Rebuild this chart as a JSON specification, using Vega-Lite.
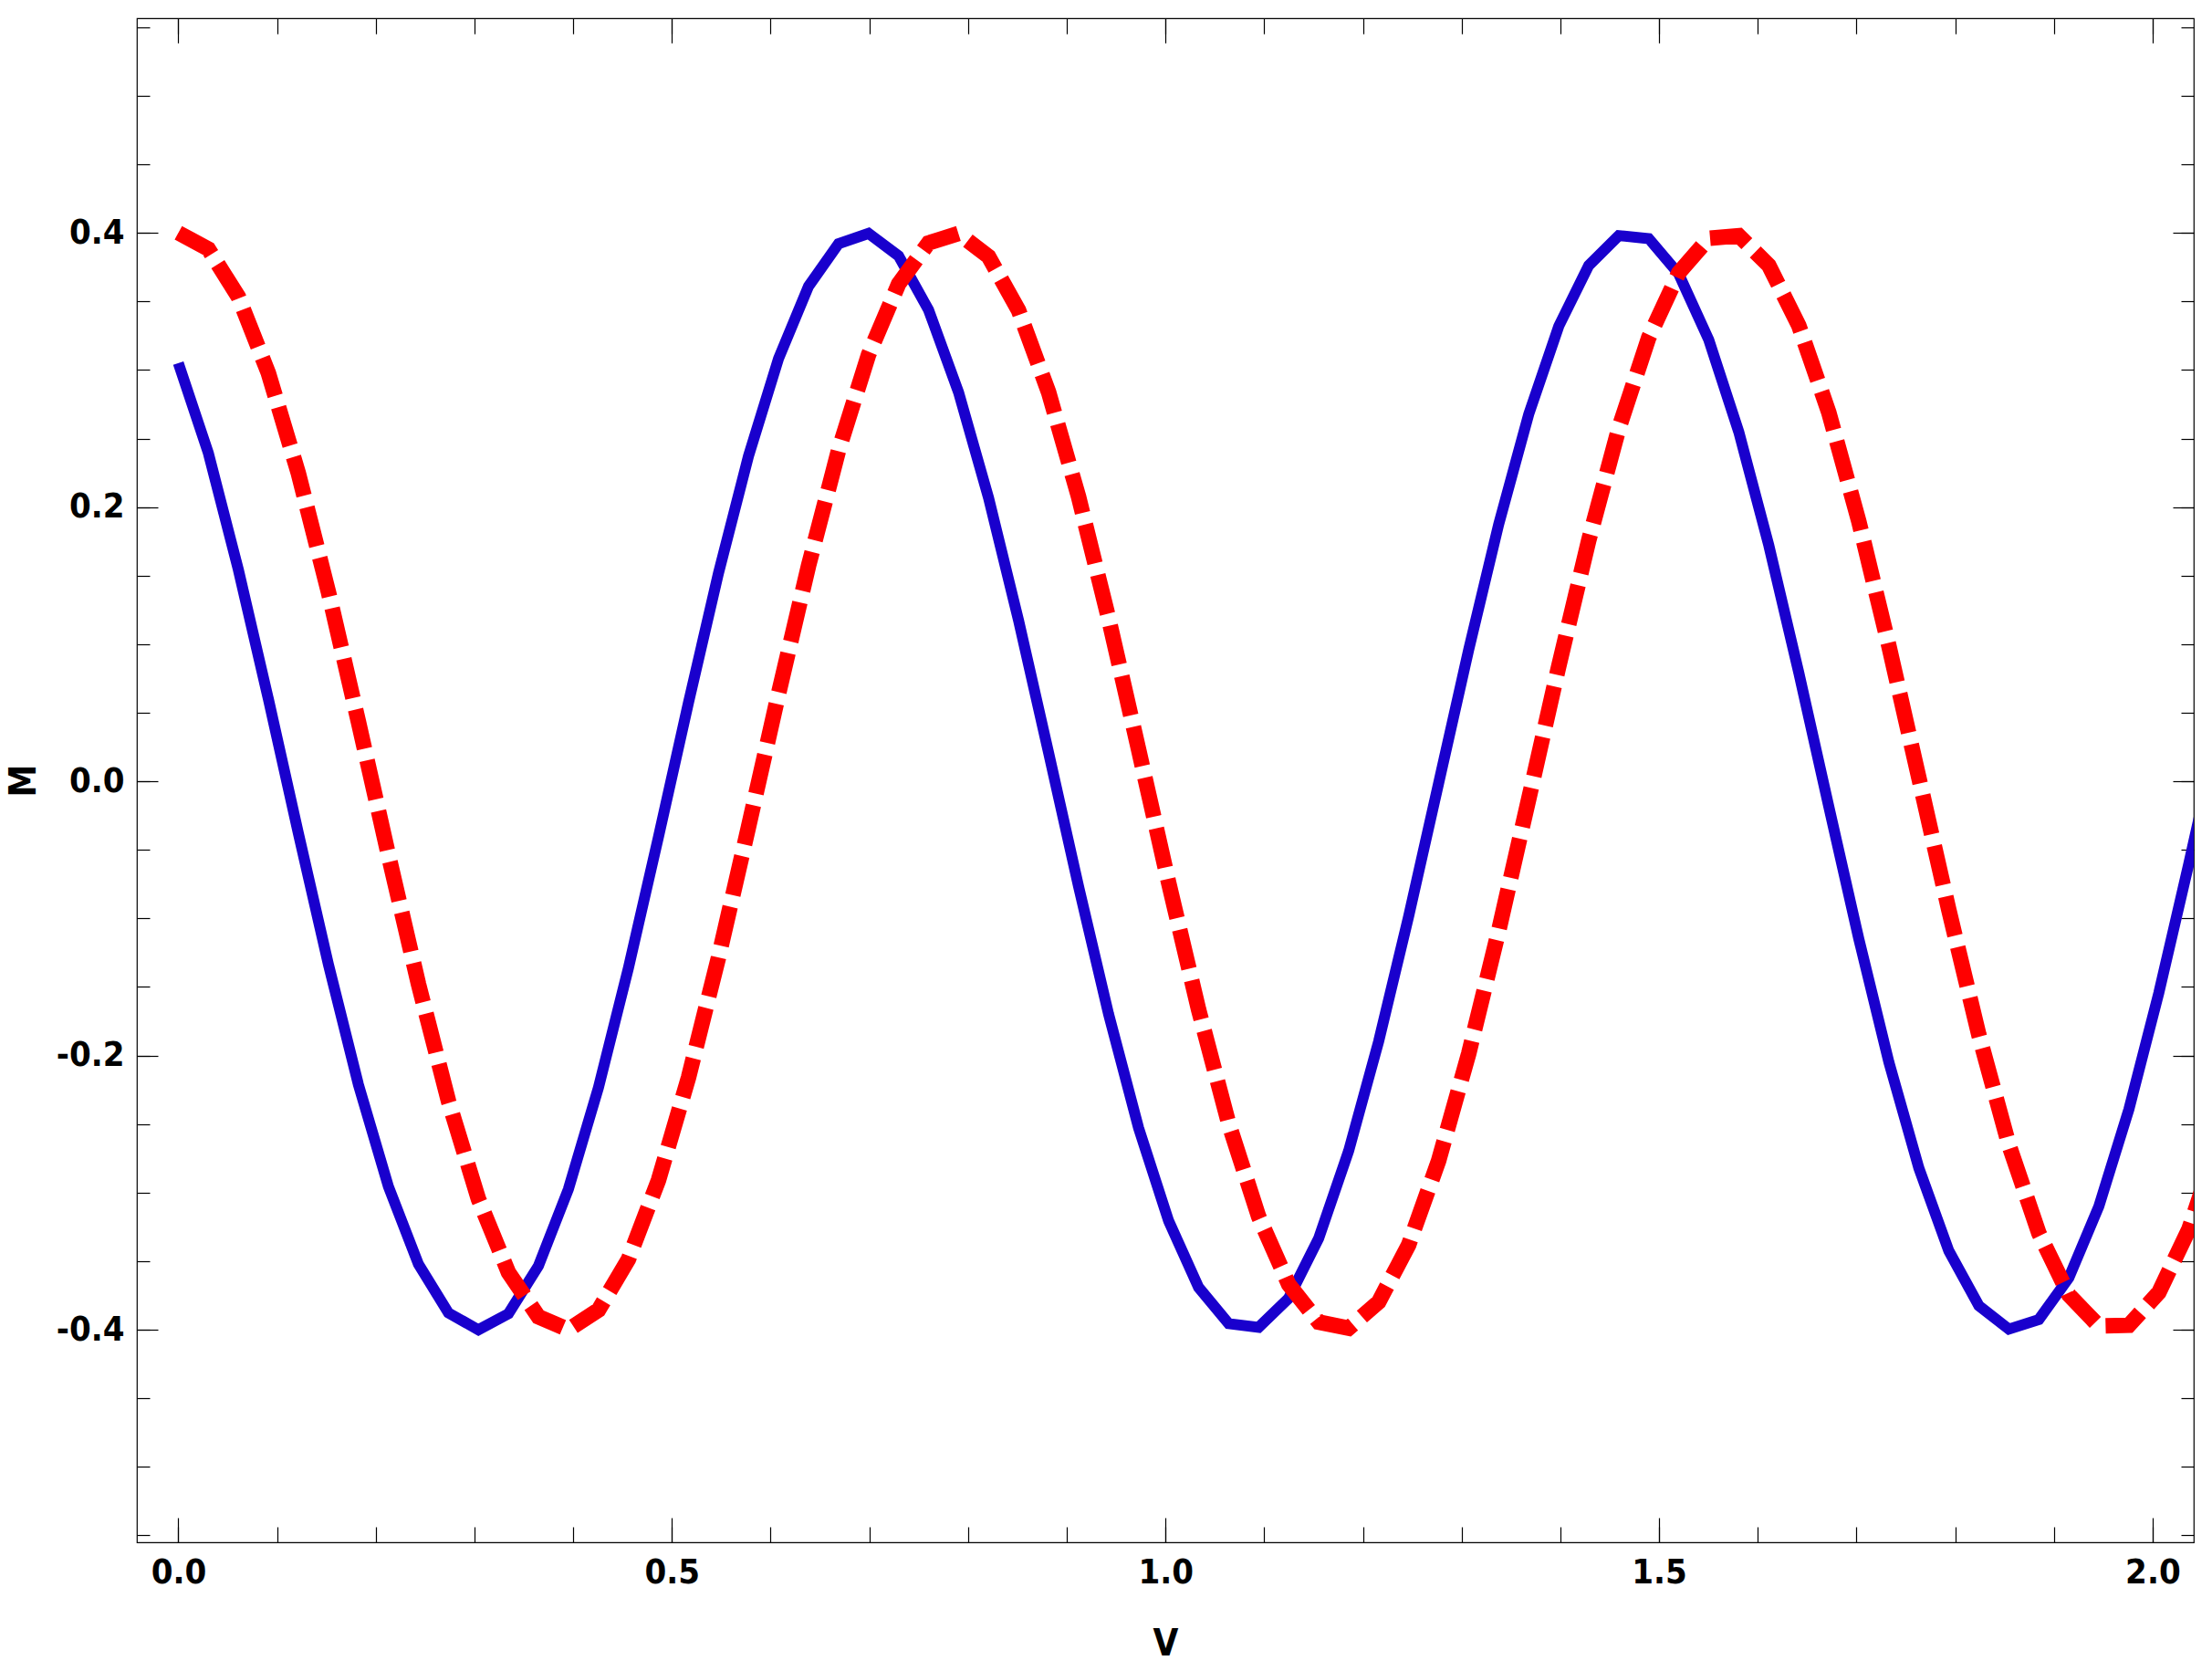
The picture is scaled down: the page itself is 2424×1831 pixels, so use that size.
{
  "$schema": "https://vega.github.io/schema/vega-lite/v6.json",
  "autosize": "none",
  "width": 2254,
  "height": 1670,
  "padding": {"left": 150, "top": 20, "right": 20, "bottom": 141},
  "background": "white",
  "config": {
    "view": {"stroke": "black", "strokeWidth": 1.2},
    "axis": {
      "domain": false,
      "grid": false,
      "tickColor": "black",
      "tickWidth": 1.2,
      "labelFont": "Liberation Sans Narrow, DejaVu Sans Condensed, sans-serif",
      "labelFontWeight": "bold",
      "labelFontSize": 38,
      "labelColor": "black",
      "titleFont": "Liberation Sans Narrow, DejaVu Sans Condensed, sans-serif",
      "titleFontWeight": "bold",
      "titleFontSize": 40,
      "titleColor": "black"
    }
  },
  "datasets": {
    "blue": [
      {"V": 0, "M": 0.305}, {"V": 0.0304, "M": 0.2394}, {"V": 0.0608, "M": 0.1543}, {"V": 0.0912, "M": 0.06}, {"V": 0.1216, "M": -0.0379}, {"V": 0.152, "M": -0.1335}, {"V": 0.1824, "M": -0.2211}, {"V": 0.2128, "M": -0.2955}, {"V": 0.2432, "M": -0.3521}, {"V": 0.2736, "M": -0.3877}, {"V": 0.304, "M": -0.4}, {"V": 0.3344, "M": -0.3883}, {"V": 0.3648, "M": -0.3534}, {"V": 0.3952, "M": -0.2973}, {"V": 0.4256, "M": -0.2233}, {"V": 0.456, "M": -0.136}, {"V": 0.4864, "M": -0.0405}, {"V": 0.5168, "M": 0.0574}, {"V": 0.5472, "M": 0.1519}, {"V": 0.5776, "M": 0.2372}, {"V": 0.608, "M": 0.3083}, {"V": 0.6384, "M": 0.361}, {"V": 0.6688, "M": 0.3921}, {"V": 0.6992, "M": 0.3996}, {"V": 0.7296, "M": 0.3832}, {"V": 0.76, "M": 0.3438}, {"V": 0.7904, "M": 0.2837}, {"V": 0.8208, "M": 0.2067}, {"V": 0.8512, "M": 0.1173}, {"V": 0.8816, "M": 0.0209}, {"V": 0.912, "M": -0.0768}, {"V": 0.9424, "M": -0.1699}, {"V": 0.9728, "M": -0.2529}, {"V": 1.0032, "M": -0.3206}, {"V": 1.0336, "M": -0.3691}, {"V": 1.064, "M": -0.3955}, {"V": 1.0944, "M": -0.3982}, {"V": 1.1248, "M": -0.377}, {"V": 1.1552, "M": -0.3333}, {"V": 1.1856, "M": -0.2695}, {"V": 1.216, "M": -0.1896}, {"V": 1.2464, "M": -0.0984}, {"V": 1.2768, "M": -0.0012}, {"V": 1.3072, "M": 0.096}, {"V": 1.3376, "M": 0.1875}, {"V": 1.368, "M": 0.2677}, {"V": 1.3984, "M": 0.3319}, {"V": 1.4288, "M": 0.3762}, {"V": 1.4592, "M": 0.398}, {"V": 1.4896, "M": 0.3958}, {"V": 1.52, "M": 0.37}, {"V": 1.5504, "M": 0.322}, {"V": 1.5808, "M": 0.2548}, {"V": 1.6112, "M": 0.1721}, {"V": 1.6416, "M": 0.0792}, {"V": 1.672, "M": -0.0185}, {"V": 1.7024, "M": -0.115}, {"V": 1.7328, "M": -0.2047}, {"V": 1.7632, "M": -0.282}, {"V": 1.7936, "M": -0.3425}, {"V": 1.824, "M": -0.3824}, {"V": 1.8544, "M": -0.3995}, {"V": 1.8848, "M": -0.3925}, {"V": 1.9152, "M": -0.3621}, {"V": 1.9456, "M": -0.3099}, {"V": 1.976, "M": -0.2392}, {"V": 2.0064, "M": -0.1541}, {"V": 2.0368, "M": -0.0598}, {"V": 2.0672, "M": 0.0381}
    ],
    "red": [
      {"V": 0, "M": 0.4}, {"V": 0.0304, "M": 0.3882}, {"V": 0.0608, "M": 0.3534}, {"V": 0.0912, "M": 0.2978}, {"V": 0.1216, "M": 0.2246}, {"V": 0.152, "M": 0.1382}, {"V": 0.1824, "M": 0.0435}, {"V": 0.2128, "M": -0.0537}, {"V": 0.2432, "M": -0.1477}, {"V": 0.2736, "M": -0.233}, {"V": 0.304, "M": -0.3046}, {"V": 0.3344, "M": -0.3581}, {"V": 0.3648, "M": -0.3905}, {"V": 0.3952, "M": -0.3999}, {"V": 0.4256, "M": -0.3856}, {"V": 0.456, "M": -0.3485}, {"V": 0.4864, "M": -0.2909}, {"V": 0.5168, "M": -0.2161}, {"V": 0.5472, "M": -0.1285}, {"V": 0.5776, "M": -0.0333}, {"V": 0.608, "M": 0.0638}, {"V": 0.6384, "M": 0.1572}, {"V": 0.6688, "M": 0.2413}, {"V": 0.6992, "M": 0.3111}, {"V": 0.7296, "M": 0.3626}, {"V": 0.76, "M": 0.3926}, {"V": 0.7904, "M": 0.3995}, {"V": 0.8208, "M": 0.3827}, {"V": 0.8512, "M": 0.3434}, {"V": 0.8816, "M": 0.2838}, {"V": 0.912, "M": 0.2074}, {"V": 0.9424, "M": 0.1188}, {"V": 0.9728, "M": 0.0231}, {"V": 1.0032, "M": -0.0739}, {"V": 1.0336, "M": -0.1666}, {"V": 1.064, "M": -0.2494}, {"V": 1.0944, "M": -0.3174}, {"V": 1.1248, "M": -0.3668}, {"V": 1.1552, "M": -0.3944}, {"V": 1.1856, "M": -0.3988}, {"V": 1.216, "M": -0.3797}, {"V": 1.2464, "M": -0.338}, {"V": 1.2768, "M": -0.2765}, {"V": 1.3072, "M": -0.1986}, {"V": 1.3376, "M": -0.1089}, {"V": 1.368, "M": -0.0129}, {"V": 1.3984, "M": 0.0839}, {"V": 1.4288, "M": 0.1758}, {"V": 1.4592, "M": 0.2573}, {"V": 1.4896, "M": 0.3236}, {"V": 1.52, "M": 0.3708}, {"V": 1.5504, "M": 0.396}, {"V": 1.5808, "M": 0.3979}, {"V": 1.6112, "M": 0.3763}, {"V": 1.6416, "M": 0.3324}, {"V": 1.672, "M": 0.269}, {"V": 1.7024, "M": 0.1896}, {"V": 1.7328, "M": 0.099}, {"V": 1.7632, "M": 0.0026}, {"V": 1.7936, "M": -0.0939}, {"V": 1.824, "M": -0.1849}, {"V": 1.8544, "M": -0.265}, {"V": 1.8848, "M": -0.3295}, {"V": 1.9152, "M": -0.3745}, {"V": 1.9456, "M": -0.3973}, {"V": 1.976, "M": -0.3967}, {"V": 2.0064, "M": -0.3727}, {"V": 2.0368, "M": -0.3267}, {"V": 2.0672, "M": -0.2613}
    ]
  },
  "layer": [
    {
      "data": {"name": "blue"},
      "mark": {"type": "line", "color": "#1900cd", "strokeWidth": 12, "clip": true},
      "encoding": {
        "x": {"field": "V", "type": "quantitative",
          "scale": {"domain": [-0.042, 2.0417], "nice": false, "zero": false},
          "axis": {"orient": "bottom", "values": [0, 0.5, 1, 1.5, 2], "format": ".1f", "tickSize": -27, "labelPadding": 41, "labelFlush": false, "labelOverlap": false, "title": "V", "titleY": 111, "titleBaseline": "middle"}},
        "y": {"field": "M", "type": "quantitative",
          "scale": {"domain": [-0.555, 0.5565], "nice": false, "zero": false},
          "axis": {"orient": "left", "values": [-0.4, -0.2, 0, 0.2, 0.4], "format": ".1f", "labelExpr": "replace(datum.label, '\u2212', '-')", "tickSize": -23, "labelPadding": 37, "labelFlush": false, "labelOverlap": false, "title": "M", "titleX": -124, "titleBaseline": "middle"}}
      }
    },
    {
      "data": {"name": "red"},
      "mark": {"type": "line", "color": "#ff0000", "strokeWidth": 17, "strokeDash": [44, 13], "clip": true},
      "encoding": {
        "x": {"field": "V", "type": "quantitative",
          "scale": {"domain": [-0.042, 2.0417], "nice": false, "zero": false},
          "axis": {"orient": "top", "values": [0, 0.5, 1, 1.5, 2], "tickSize": -27, "labels": false, "title": null}},
        "y": {"field": "M", "type": "quantitative",
          "scale": {"domain": [-0.555, 0.5565], "nice": false, "zero": false},
          "axis": {"orient": "right", "values": [-0.4, -0.2, 0, 0.2, 0.4], "tickSize": -23, "labels": false, "title": null}}
      }
    },
    {
      "data": {"name": "red"},
      "mark": {"type": "line", "opacity": 0, "clip": true},
      "encoding": {
        "x": {"field": "V", "type": "quantitative",
          "scale": {"domain": [-0.042, 2.0417], "nice": false, "zero": false},
          "axis": {"orient": "bottom", "values": [0, 0.1, 0.2, 0.3, 0.4, 0.5, 0.6, 0.7, 0.8, 0.9, 1, 1.1, 1.2, 1.3, 1.4, 1.5, 1.6, 1.7, 1.8, 1.9, 2], "tickSize": -17, "labels": false, "title": null}},
        "y": {"field": "M", "type": "quantitative",
          "scale": {"domain": [-0.555, 0.5565], "nice": false, "zero": false},
          "axis": {"orient": "left", "values": [-0.55, -0.5, -0.45, -0.4, -0.35, -0.3, -0.25, -0.2, -0.15, -0.1, -0.05, 0, 0.05, 0.1, 0.15, 0.2, 0.25, 0.3, 0.35, 0.4, 0.45, 0.5, 0.55], "tickSize": -14, "labels": false, "title": null}}
      }
    },
    {
      "data": {"name": "red"},
      "mark": {"type": "line", "opacity": 0, "clip": true},
      "encoding": {
        "x": {"field": "V", "type": "quantitative",
          "scale": {"domain": [-0.042, 2.0417], "nice": false, "zero": false},
          "axis": {"orient": "top", "values": [0, 0.1, 0.2, 0.3, 0.4, 0.5, 0.6, 0.7, 0.8, 0.9, 1, 1.1, 1.2, 1.3, 1.4, 1.5, 1.6, 1.7, 1.8, 1.9, 2], "tickSize": -17, "labels": false, "title": null}},
        "y": {"field": "M", "type": "quantitative",
          "scale": {"domain": [-0.555, 0.5565], "nice": false, "zero": false},
          "axis": {"orient": "right", "values": [-0.55, -0.5, -0.45, -0.4, -0.35, -0.3, -0.25, -0.2, -0.15, -0.1, -0.05, 0, 0.05, 0.1, 0.15, 0.2, 0.25, 0.3, 0.35, 0.4, 0.45, 0.5, 0.55], "tickSize": -14, "labels": false, "title": null}}
      }
    }
  ],
  "resolve": {"axis": {"x": "independent", "y": "independent"}}
}
